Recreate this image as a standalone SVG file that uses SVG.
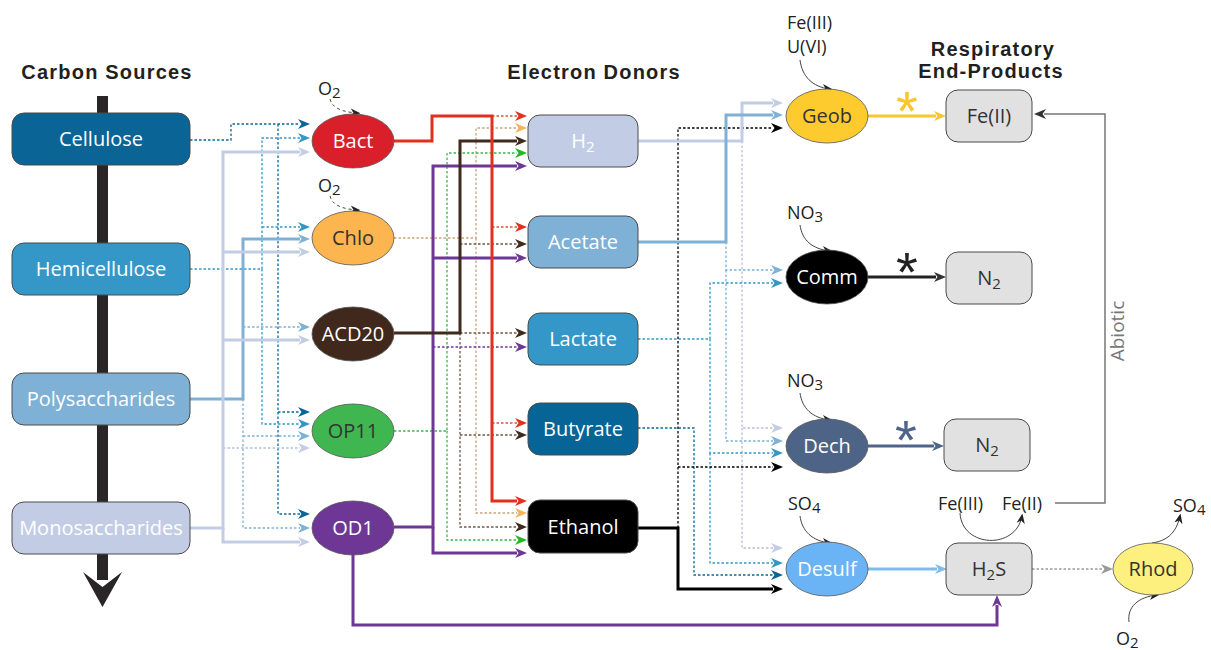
<svg xmlns="http://www.w3.org/2000/svg" width="1211" height="650" viewBox="0 0 1211 650">
<style>
.h{font-family:"Liberation Sans",Arial,sans-serif;font-weight:bold;font-size:20px;letter-spacing:1.2px;fill:#231f20;text-anchor:middle}
.t{font-family:"Open Sans","Noto Sans",sans-serif;font-size:20px;text-anchor:middle}
.w{fill:#fff}.k{fill:#333}
.lb{font-family:"Open Sans","Noto Sans",sans-serif;font-size:18px;fill:#231f20}
.box{stroke:#4a4a4a;stroke-width:1}
.ell{stroke:#555;stroke-width:0.8}
.s{fill:none;stroke-width:3}
.d{fill:none;stroke-width:1.3;stroke-dasharray:2.5 2}
.thin{fill:none;stroke:#444;stroke-width:1}
.ast{font-family:"Liberation Sans",Arial,sans-serif;font-size:56px;text-anchor:middle}
</style>
<defs>
<marker id="a1" viewBox="0 0 12 10" refX="2" refY="5" markerWidth="12" markerHeight="10" markerUnits="userSpaceOnUse" orient="auto"><path d="M0,0L12,5L0,10L3.5,5Z" fill="#0a6596"/></marker>
<marker id="a2" viewBox="0 0 12 10" refX="2" refY="5" markerWidth="12" markerHeight="10" markerUnits="userSpaceOnUse" orient="auto"><path d="M0,0L12,5L0,10L3.5,5Z" fill="#3597c8"/></marker>
<marker id="a3" viewBox="0 0 12 10" refX="2" refY="5" markerWidth="12" markerHeight="10" markerUnits="userSpaceOnUse" orient="auto"><path d="M0,0L12,5L0,10L3.5,5Z" fill="#7eb1d5"/></marker>
<marker id="a4" viewBox="0 0 12 10" refX="2" refY="5" markerWidth="12" markerHeight="10" markerUnits="userSpaceOnUse" orient="auto"><path d="M0,0L12,5L0,10L3.5,5Z" fill="#c2cde5"/></marker>
<marker id="ar" viewBox="0 0 12 10" refX="2" refY="5" markerWidth="12" markerHeight="10" markerUnits="userSpaceOnUse" orient="auto"><path d="M0,0L12,5L0,10L3.5,5Z" fill="#e2301c"/></marker>
<marker id="ao" viewBox="0 0 12 10" refX="2" refY="5" markerWidth="12" markerHeight="10" markerUnits="userSpaceOnUse" orient="auto"><path d="M0,0L12,5L0,10L3.5,5Z" fill="#f9b25a"/></marker>
<marker id="ab" viewBox="0 0 12 10" refX="2" refY="5" markerWidth="12" markerHeight="10" markerUnits="userSpaceOnUse" orient="auto"><path d="M0,0L12,5L0,10L3.5,5Z" fill="#3f2a1d"/></marker>
<marker id="ag" viewBox="0 0 12 10" refX="2" refY="5" markerWidth="12" markerHeight="10" markerUnits="userSpaceOnUse" orient="auto"><path d="M0,0L12,5L0,10L3.5,5Z" fill="#22b822"/></marker>
<marker id="ap" viewBox="0 0 12 10" refX="2" refY="5" markerWidth="12" markerHeight="10" markerUnits="userSpaceOnUse" orient="auto"><path d="M0,0L12,5L0,10L3.5,5Z" fill="#6e3795"/></marker>
<marker id="ak" viewBox="0 0 12 10" refX="2" refY="5" markerWidth="12" markerHeight="10" markerUnits="userSpaceOnUse" orient="auto"><path d="M0,0L12,5L0,10L3.5,5Z" fill="#000"/></marker>
<marker id="ay" viewBox="0 0 12 10" refX="2" refY="5" markerWidth="12" markerHeight="10" markerUnits="userSpaceOnUse" orient="auto"><path d="M0,0L12,5L0,10L3.5,5Z" fill="#f9c630"/></marker>
<marker id="ad" viewBox="0 0 12 10" refX="2" refY="5" markerWidth="12" markerHeight="10" markerUnits="userSpaceOnUse" orient="auto"><path d="M0,0L12,5L0,10L3.5,5Z" fill="#4f6489"/></marker>
<marker id="as" viewBox="0 0 12 10" refX="2" refY="5" markerWidth="12" markerHeight="10" markerUnits="userSpaceOnUse" orient="auto"><path d="M0,0L12,5L0,10L3.5,5Z" fill="#7fbde8"/></marker>
<marker id="agr" viewBox="0 0 12 10" refX="2" refY="5" markerWidth="12" markerHeight="10" markerUnits="userSpaceOnUse" orient="auto"><path d="M0,0L12,5L0,10L3.5,5Z" fill="#999"/></marker>
<marker id="an" viewBox="0 0 12 10" refX="2" refY="5" markerWidth="12" markerHeight="10" markerUnits="userSpaceOnUse" orient="auto"><path d="M0,0L12,5L0,10L3.5,5Z" fill="#333"/></marker>
<marker id="sm" viewBox="0 0 12 10" refX="9" refY="5" markerWidth="10" markerHeight="9" markerUnits="userSpaceOnUse" orient="auto"><path d="M0,0L12,5L0,10L3.5,5Z" fill="#222"/></marker>
</defs>

<g id="headings">
<text class="h" x="107" y="79">Carbon Sources</text>
<text class="h" x="594" y="79">Electron Donors</text>
<text class="h" x="993" y="56">Respiratory</text>
<text class="h" x="991" y="78">End-Products</text>
</g>

<g id="carbon-axis">
<rect x="97" y="96" width="11" height="484" fill="#2a2627"/>
<path d="M83,572 L102.5,587 L122,572 L102.5,607 Z" fill="#2a2627"/>
</g>

<g id="connectors">
<path class="d" stroke="#0a6596" marker-end="url(#a1)" d="M190,140H231V124H300"/>
<path class="d" stroke="#0a6596" marker-end="url(#a1)" d="M278,124V412H300"/>
<path class="d" stroke="#0a6596" marker-end="url(#a1)" d="M278,412V514H300"/>
<path class="d" stroke="#3597c8" marker-end="url(#a2)" d="M190,269H262V138H300"/>
<path class="d" stroke="#3597c8" marker-end="url(#a2)" d="M262,227H300"/>
<path class="d" stroke="#3597c8" marker-end="url(#a2)" d="M262,269V424H300"/>
<path class="d" stroke="#7eb1d5" marker-end="url(#a3)" d="M243,327H300"/>
<path class="d" stroke="#7eb1d5" marker-end="url(#a3)" d="M243,436H300"/>
<path class="d" stroke="#7eb1d5" marker-end="url(#a3)" d="M243,399V528H300"/>
<path class="s" stroke="#7eb1d5" marker-end="url(#a3)" d="M190,399H243V239H300"/>
<path class="d" stroke="#b5c0da" marker-end="url(#a4)" d="M223,448H300"/>
<path class="s" stroke="#c2cde5" marker-end="url(#a4)" d="M190,528H223V152H300"/>
<path class="s" stroke="#c2cde5" marker-end="url(#a4)" d="M223,252H300"/>
<path class="s" stroke="#c2cde5" marker-end="url(#a4)" d="M223,340H300"/>
<path class="s" stroke="#c2cde5" marker-end="url(#a4)" d="M223,528V542H300"/>

<path class="d" stroke="#d4562f" marker-end="url(#ar)" d="M492,116H517"/>
<path class="d" stroke="#d4562f" marker-end="url(#ar)" d="M492,227H517"/>
<path class="d" stroke="#d4562f" marker-end="url(#ar)" d="M492,423H517"/>
<path class="d" stroke="#c9a47d" marker-end="url(#ao)" d="M394,238H476V128H517"/>
<path class="d" stroke="#c9a47d" marker-end="url(#ao)" d="M476,238V513H517"/>
<path class="d" stroke="#6d5646" marker-end="url(#ab)" d="M460,244H517"/>
<path class="d" stroke="#6d5646" marker-end="url(#ab)" d="M460,333H517"/>
<path class="d" stroke="#6d5646" marker-end="url(#ab)" d="M460,435H517"/>
<path class="d" stroke="#6d5646" marker-end="url(#ab)" d="M460,333V527H517"/>
<path class="d" stroke="#3cb44b" marker-end="url(#ag)" d="M394,431H447V153H517"/>
<path class="d" stroke="#3cb44b" marker-end="url(#ag)" d="M447,431V540H517"/>
<path class="d" stroke="#6e3795" marker-end="url(#ap)" d="M433,347H517"/>
<path class="s" stroke="#6e3795" marker-end="url(#ap)" d="M394,527H433V166H517"/>
<path class="s" stroke="#6e3795" marker-end="url(#ap)" d="M433,258H517"/>
<path class="s" stroke="#6e3795" marker-end="url(#ap)" d="M433,527V553H517"/>
<path class="s" stroke="#6e3795" stroke-width="2.5" marker-end="url(#ap)" d="M353,555V625H997V605"/>
<path class="s" stroke="#3f2a1d" marker-end="url(#ab)" d="M394,333H460V141H517"/>
<path class="s" stroke="#e2301c" marker-end="url(#ar)" d="M394,141H432V116H492V501H517"/>

<path class="d" stroke="#b5c0da" marker-end="url(#a4)" d="M742,141V428H773"/>
<path class="d" stroke="#b5c0da" marker-end="url(#a4)" d="M742,428V548H773"/>
<path class="d" stroke="#7eb1d5" marker-end="url(#a3)" d="M726,242V270H773"/>
<path class="d" stroke="#7eb1d5" marker-end="url(#a3)" d="M726,270V441H773"/>
<path class="d" stroke="#3597c8" marker-end="url(#a2)" d="M638,339H710V283H773"/>
<path class="d" stroke="#3597c8" marker-end="url(#a2)" d="M710,339V453H773"/>
<path class="d" stroke="#3597c8" marker-end="url(#a2)" d="M710,453V563H773"/>
<path class="d" stroke="#0a6596" marker-end="url(#a1)" d="M638,428H694V575H773"/>
<path class="d" stroke="#000" marker-end="url(#ak)" d="M678,528V128H773"/>
<path class="d" stroke="#000" marker-end="url(#ak)" d="M678,467H773"/>
<path class="s" stroke="#c2cde5" marker-end="url(#a4)" d="M638,141H742V103H773"/>
<path class="s" stroke="#7eb1d5" marker-end="url(#a3)" d="M638,242H726V115H773"/>
<path class="s" stroke="#000" marker-end="url(#ak)" d="M638,528H678V589H773"/>

<path class="s" stroke="#f9c630" stroke-width="2.5" marker-end="url(#ay)" d="M868,116H936"/>
<path class="s" stroke="#222" stroke-width="2.5" marker-end="url(#an)" d="M868,277H936"/>
<path class="s" stroke="#4f6489" stroke-width="2.5" marker-end="url(#ad)" d="M868,446H934"/>
<path class="s" stroke="#7fbde8" marker-end="url(#as)" d="M868,569H937"/>
<path class="d" stroke="#999" stroke-width="1.5" marker-end="url(#agr)" d="M1032,569H1103"/>
<path fill="none" stroke="#777" stroke-width="1.5" marker-end="url(#an)" d="M1055,503H1105V114H1044"/>

<path class="thin" stroke-dasharray="3 3" marker-end="url(#sm)" d="M330,99C332,107 340,112 358,113"/>
<path class="thin" stroke-dasharray="3 3" marker-end="url(#sm)" d="M330,196C332,204 340,209 358,210"/>
<path class="thin" marker-end="url(#sm)" d="M800,60C802,76 812,87 830,89"/>
<path class="thin" marker-end="url(#sm)" d="M800,225C802,240 812,249 830,251"/>
<path class="thin" marker-end="url(#sm)" d="M800,393C802,408 812,418 830,420"/>
<path class="thin" marker-end="url(#sm)" d="M800,516C802,531 812,541 830,543"/>
<path class="thin" marker-end="url(#sm)" d="M960,513C962,548 1016,550 1022,516"/>
<path class="thin" marker-end="url(#sm)" d="M1152,543C1166,541 1176,534 1180,516"/>
<path class="thin" marker-end="url(#sm)" d="M1129,622C1127,607 1138,597 1157,595"/>
</g>

<g id="cellulose"><rect class="box" x="12" y="113" width="178" height="52" rx="12" fill="#0a6596"/><text class="t w" x="101" y="146">Cellulose</text></g>
<g id="hemicellulose"><rect class="box" x="12" y="243" width="178" height="52" rx="12" fill="#3597c8"/><text class="t w" x="101" y="276">Hemicellulose</text></g>
<g id="polysaccharides"><rect class="box" x="12" y="373" width="178" height="52" rx="12" fill="#7eb1d5"/><text class="t w" x="101" y="406">Polysaccharides</text></g>
<g id="monosaccharides"><rect class="box" x="12" y="502" width="178" height="52" rx="12" fill="#c2cde5"/><text class="t w" x="101" y="535">Monosaccharides</text></g>

<g id="bact"><ellipse class="ell" cx="353" cy="141" rx="41" ry="27" fill="#d9202a"/><text class="t w" x="353" y="148">Bact</text><text class="lb" x="318" y="95">O<tspan font-size="15" dy="3">2</tspan></text></g>
<g id="chlo"><ellipse class="ell" cx="353" cy="238" rx="41" ry="27" fill="#fdb550"/><text class="t k" x="353" y="245">Chlo</text><text class="lb" x="318" y="192">O<tspan font-size="15" dy="3">2</tspan></text></g>
<g id="acd20"><ellipse class="ell" cx="353" cy="334" rx="41" ry="27" fill="#40291c"/><text class="t w" x="353" y="341">ACD20</text></g>
<g id="op11"><ellipse class="ell" cx="353" cy="431" rx="41" ry="27" fill="#40b650"/><text class="t k" x="353" y="438">OP11</text></g>
<g id="od1"><ellipse class="ell" cx="353" cy="528" rx="41" ry="27" fill="#6e3795"/><text class="t w" x="353" y="535">OD1</text></g>

<g id="h2"><rect class="box" x="528" y="115" width="110" height="52" rx="12" fill="#c2cde5"/><text class="t w" x="583" y="148">H<tspan font-size="15" dy="4">2</tspan></text></g>
<g id="acetate"><rect class="box" x="528" y="216" width="110" height="52" rx="12" fill="#7eb1d5"/><text class="t w" x="583" y="249">Acetate</text></g>
<g id="lactate"><rect class="box" x="528" y="313" width="110" height="52" rx="12" fill="#3597c8"/><text class="t w" x="583" y="346">Lactate</text></g>
<g id="butyrate"><rect class="box" x="528" y="403" width="110" height="52" rx="12" fill="#066496"/><text class="t w" x="583" y="436">Butyrate</text></g>
<g id="ethanol"><rect class="box" x="528" y="500" width="110" height="53" rx="12" fill="#000"/><text class="t w" x="583" y="534">Ethanol</text></g>

<g id="geob"><ellipse class="ell" cx="827" cy="116" rx="41" ry="27" fill="#fecb2f"/><text class="t k" x="827" y="123">Geob</text><text class="lb" x="787" y="29" font-size="17">Fe(III)</text><text class="lb" x="787" y="53" font-size="17">U(VI)</text></g>
<g id="comm"><ellipse class="ell" cx="827" cy="277" rx="41" ry="27" fill="#000"/><text class="t w" x="827" y="284">Comm</text><text class="lb" x="787" y="219">NO<tspan font-size="15" dy="3">3</tspan></text></g>
<g id="dech"><ellipse class="ell" cx="827" cy="446" rx="41" ry="27" fill="#4e6487"/><text class="t w" x="827" y="453">Dech</text><text class="lb" x="787" y="387">NO<tspan font-size="15" dy="3">3</tspan></text></g>
<g id="desulf"><ellipse class="ell" cx="827" cy="569" rx="41" ry="27" fill="#6ab4f5"/><text class="t w" x="827" y="576">Desulf</text><text class="lb" x="788" y="510">SO<tspan font-size="15" dy="3">4</tspan></text></g>

<g id="fe2"><rect class="box" x="946" y="90" width="86" height="52" rx="12" fill="#e1e1e1"/><text class="t k" x="989" y="123">Fe(II)</text></g>
<g id="n2a"><rect class="box" x="946" y="252" width="86" height="52" rx="12" fill="#e1e1e1"/><text class="t k" x="989" y="285">N<tspan font-size="15" dy="4">2</tspan></text></g>
<g id="n2b"><rect class="box" x="944" y="419" width="86" height="52" rx="12" fill="#e1e1e1"/><text class="t k" x="987" y="452">N<tspan font-size="15" dy="4">2</tspan></text></g>
<g id="h2s"><rect class="box" x="946" y="543" width="86" height="52" rx="12" fill="#e1e1e1"/><text class="t k" x="989" y="576">H<tspan font-size="15" dy="4">2</tspan><tspan dy="-4">S</tspan></text><text class="lb" x="938" y="510">Fe(III)</text><text class="lb" x="1002" y="510">Fe(II)</text></g>
<g id="rhod"><ellipse class="ell" cx="1153" cy="569" rx="40" ry="26" fill="#fdf07e"/><text class="t k" x="1153" y="576">Rhod</text><text class="lb" x="1173" y="512">SO<tspan font-size="15" dy="3">4</tspan></text><text class="lb" x="1116" y="645">O<tspan font-size="15" dy="3">2</tspan></text></g>

<g id="marks">
<text class="ast" x="907" y="130" fill="#f9c630">*</text>
<text class="ast" x="907" y="291" fill="#222">*</text>
<text class="ast" x="906" y="459" fill="#4f6489">*</text>
<text x="1124" y="331" transform="rotate(-90 1124 331)" font-family="Open Sans,Noto Sans,sans-serif" font-size="19" fill="#777" text-anchor="middle">Abiotic</text>
</g>
</svg>
